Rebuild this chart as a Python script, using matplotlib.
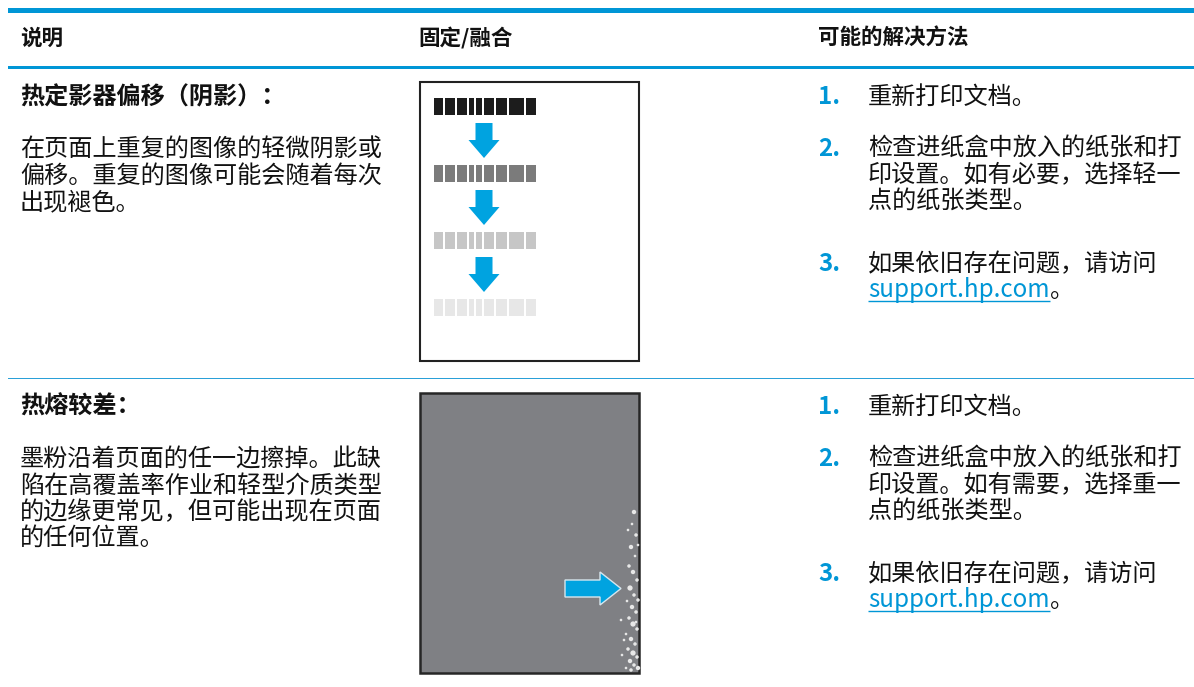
import matplotlib
matplotlib.use("Agg")
import matplotlib.pyplot as plt
from matplotlib.patches import Rectangle, Polygon

plt.rcParams["font.family"] = ["Noto Sans CJK SC", "DejaVu Sans"]

HP_BLUE = "#0096D6"
ARROW_BLUE = "#00A3E0"
TEXT = "#111111"

# table text
headers = ["说明", "固定/融合", "可能的解决方法"]
row_titles = ["热定影器偏移（阴影）：", "热熔较差："]
row_bodies = [
    ["在页面上重复的图像的轻微阴影或", "偏移。重复的图像可能会随着每次", "出现褪色。"],
    ["墨粉沿着页面的任一边擦掉。此缺", "陷在高覆盖率作业和轻型介质类型",
     "的边缘更常见，但可能出现在页面", "的任何位置。"],
]
row_steps = [
    [["重新打印文档。"],
     ["检查进纸盒中放入的纸张和打", "印设置。如有必要，选择轻一", "点的纸张类型。"],
     ["如果依旧存在问题，请访问"]],
    [["重新打印文档。"],
     ["检查进纸盒中放入的纸张和打", "印设置。如有需要，选择重一", "点的纸张类型。"],
     ["如果依旧存在问题，请访问"]],
]
link_text = "support.hp.com"

# illustration 1: fading repeated image rows
ghost_shades = ["#1c1c1c", "#7b7b7b", "#c6c6c6", "#e7e7e7"]
block_edges = [433, 444, 456, 468, 475, 483, 495, 508, 525, 537]

# illustration 2: toner specks along the right edge (x, y, size)
specks = [
    (634, 512, 2.5), (632, 524, 1.5), (636, 535, 2), (631, 547, 2.5), (635, 556, 1.5),
    (629, 566, 2), (633, 572, 2.5), (637, 580, 2), (630, 588, 3), (634, 595, 2),
    (627, 601, 1.5), (632, 607, 2.5), (636, 612, 2), (629, 618, 2), (633, 624, 3),
    (637, 629, 2), (626, 634, 1.5), (631, 639, 2.5), (635, 644, 2), (628, 649, 2),
    (633, 653, 3), (637, 657, 2), (630, 661, 2.5), (634, 665, 2), (638, 668, 2.5),
    (626, 668, 1.5), (622, 655, 1.5), (624, 640, 1.5), (621, 620, 1.5), (638, 600, 2),
    (638, 545, 1.5), (628, 530, 1.5), (636, 622, 1.5), (631, 670, 2),
]

fig = plt.figure(figsize=(11.94, 6.87), dpi=100)
ax = fig.add_axes([0, 0, 1, 1])
ax.set_xlim(0, 1194)
ax.set_ylim(687, 0)
ax.axis("off")

# rules
ax.add_patch(Rectangle((8, 8), 1186, 5, color=HP_BLUE, lw=0))
ax.add_patch(Rectangle((8, 66), 1186, 2.6, color=HP_BLUE, lw=0))
ax.add_patch(Rectangle((8, 378), 1186, 1.3, color="#2aa0d8", lw=0))

col_x = [20, 418, 818]
for x, h in zip(col_x, headers):
    ax.text(x, 38, h, fontsize=15.5, fontweight="heavy", color=TEXT, va="center")

FS = 17.4
LINE = 26
BODY_W = "medium"
row_top = [97, 407]
fig.canvas.draw()
renderer = fig.canvas.get_renderer()

for r in range(2):
    y0 = row_top[r]
    ax.text(20, y0, row_titles[r], fontsize=FS, fontweight="heavy", color=TEXT, va="center")
    for i, line in enumerate(row_bodies[r]):
        ax.text(20, y0 + 53 + i * LINE, line, fontsize=FS, fontweight=BODY_W,
                color=TEXT, va="center")

    step_y = [y0, y0 + 52, y0 + 167]
    for k, (sy, lines) in enumerate(zip(step_y, row_steps[r])):
        ax.text(818, sy, f"{k + 1}.", fontsize=FS, fontweight="bold", color=HP_BLUE, va="center")
        for i, line in enumerate(lines):
            ax.text(868, sy + i * LINE, line, fontsize=FS, fontweight=BODY_W,
                    color=TEXT, va="center")
    # link line
    ly = step_y[2] + LINE
    t = ax.text(868, ly, link_text, fontsize=FS, fontweight=BODY_W, color=HP_BLUE, va="center")
    bb = t.get_window_extent(renderer=renderer)
    x_end = bb.x1
    ax.plot([868, x_end], [ly + 11, ly + 11], color=HP_BLUE, lw=1.0, solid_capstyle="butt")
    ax.text(x_end, ly, "。", fontsize=FS, fontweight=BODY_W, color=TEXT, va="center")

# illustration 1
ax.add_patch(Rectangle((420, 82), 219, 279, facecolor="white", edgecolor="#222222", lw=1.5))
for j, shade in enumerate(ghost_shades):
    top = 98 + j * 67
    for a, b in zip(block_edges[:-1], block_edges[1:]):
        ax.add_patch(Rectangle((a + 0.8, top), b - a - 1.6, 17, facecolor=shade, lw=0))
    if j < 3:
        at = top + 25
        cx = 484
        ax.add_patch(Polygon([(cx - 8.5, at), (cx + 8.5, at), (cx + 8.5, at + 17),
                              (cx + 15.5, at + 17), (cx, at + 35), (cx - 15.5, at + 17),
                              (cx - 8.5, at + 17)], closed=True, facecolor=ARROW_BLUE, lw=0))

# illustration 2
ax.add_patch(Rectangle((420, 393), 219, 280, facecolor="#7f8084", edgecolor="#262626", lw=1.8))
ax.scatter([s[0] for s in specks], [s[1] for s in specks], s=[s[2] ** 2 * 1.6 for s in specks],
           color="#e8e8e8", lw=0, zorder=3)
ax.add_patch(Polygon([(565, 580), (600, 580), (600, 572), (621, 588.5), (600, 605),
                      (600, 597), (565, 597)], closed=True, facecolor=ARROW_BLUE,
                     edgecolor="#d8e6ee", lw=1.0, zorder=4))

fig.savefig("out.png", dpi=100)
